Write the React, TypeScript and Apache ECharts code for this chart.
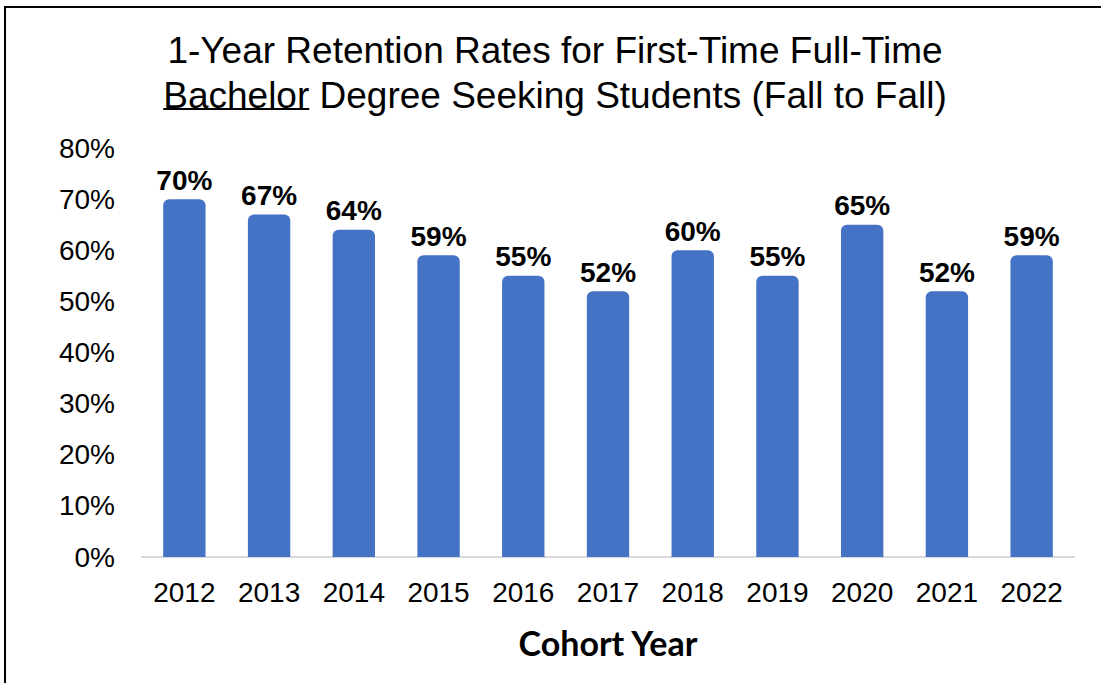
import React, { useEffect, useRef } from "react";
import * as echarts from "echarts";

const categories = ["2012", "2013", "2014", "2015", "2016", "2017", "2018", "2019", "2020", "2021", "2022"];
const retention = [70, 67, 64, 59, 55, 52, 60, 55, 65, 52, 59];
const yTicks = { min: 0, max: 80, interval: 10 };
const titleLine1 = "1-Year Retention Rates for First-Time Full-Time";
const titleUnderlined = "Bachelor";
const titleRest = " Degree Seeking Students (Fall to Fall)";
const xAxisName = "Cohort Year";

export default function App() {
  const ref = useRef<HTMLDivElement>(null);
  useEffect(() => {
    document.body.style.margin = "0";
    const chart = echarts.init(ref.current!, null, { renderer: "svg" });
    const font = "'Liberation Sans', Arial, sans-serif";
    const titleSize = 37;
    const cx = 555;
    // measure text to place the underline
    const canvas = document.createElement("canvas");
    const ctx = canvas.getContext("2d")!;
    ctx.font = `${titleSize}px 'Liberation Sans', Arial, sans-serif`;
    const wU = ctx.measureText(titleUnderlined).width;
    const wAll = ctx.measureText(titleUnderlined + titleRest).width;
    const startX = cx - wAll / 2;

    chart.setOption({
      animation: false,
      backgroundColor: "#ffffff",
      graphic: [
        {
          type: "rect",
          shape: { x: 5, y: 7, width: 1200, height: 1000 },
          style: { fill: "none", stroke: "#000000", lineWidth: 2 },
          silent: true,
        },
        {
          type: "text",
          x: cx,
          y: 50,
          style: {
            text: titleLine1,
            font: `${titleSize}px 'Liberation Sans', Arial, sans-serif`,
            fill: "#000000",
            textAlign: "center",
            textVerticalAlign: "middle",
          },
          silent: true,
        },
        {
          type: "text",
          x: cx,
          y: 95,
          style: {
            text: titleUnderlined + titleRest,
            font: `${titleSize}px 'Liberation Sans', Arial, sans-serif`,
            fill: "#000000",
            textAlign: "center",
            textVerticalAlign: "middle",
          },
          silent: true,
        },
        {
          type: "line",
          shape: { x1: startX, y1: 109, x2: startX + wU, y2: 109 },
          style: { stroke: "#000000", lineWidth: 2 },
          silent: true,
        },
      ],
      grid: { left: 142, right: 27, top: 148, bottom: 126 },
      xAxis: {
        type: "category",
        data: categories,
        name: xAxisName,
        nameLocation: "middle",
        nameGap: 68,
        nameTextStyle: { fontFamily: "Lato, 'Open Sans', sans-serif", fontWeight: "bold", fontSize: 34, color: "#000000" },
        axisLine: { show: true, lineStyle: { color: "#d9d9d9", width: 2 } },
        axisTick: { show: false },
        axisLabel: { fontFamily: font, fontSize: 28, color: "#000000", margin: 21 },
      },
      yAxis: {
        type: "value",
        min: yTicks.min,
        max: yTicks.max,
        interval: yTicks.interval,
        splitLine: { show: false },
        axisLine: { show: false },
        axisTick: { show: false },
        axisLabel: { fontFamily: font, fontSize: 28, color: "#000000", margin: 27, formatter: "{value}%" },
      },
      series: [
        {
          type: "bar",
          data: retention,
          barWidth: "50%",
          itemStyle: { color: "#4472C4", borderRadius: [6, 6, 0, 0] },
          label: {
            show: true,
            position: "top",
            distance: 5,
            formatter: "{c}%",
            fontFamily: font,
            fontSize: 28,
            fontWeight: "bold",
            color: "#000000",
          },
        },
      ],
    });
    return () => chart.dispose();
  }, []);
  return <div ref={ref} style={{ width: 1101, height: 683 }} />;
}
